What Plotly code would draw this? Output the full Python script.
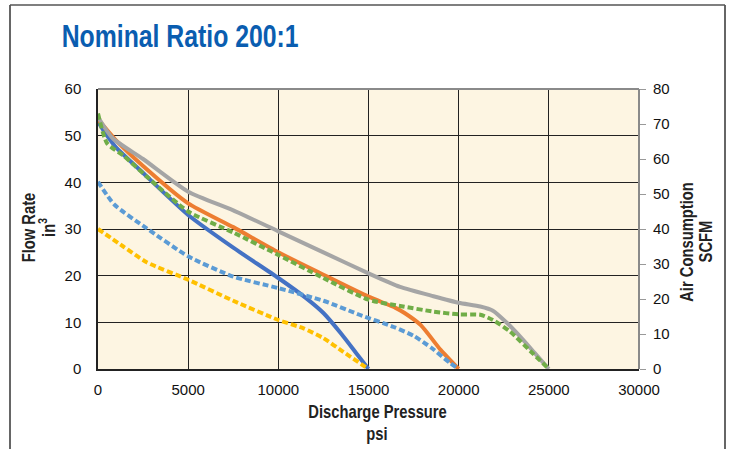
import plotly.graph_objects as go

# Flow rate (left axis, in^3) - solid lines
blue_x = [0, 500, 1000, 2500, 5000, 7500, 10000, 11500, 12500, 13500, 14300, 15000]
blue_y = [53, 50, 47.5, 42, 33, 26, 19.5, 15.3, 12, 7.5, 3.5, 0]

orange_x = [0, 1000, 2500, 5000, 7500, 10000, 12500, 15000, 16500, 17000, 17900, 19000, 20000]
orange_y = [53.5, 49, 43.5, 35.5, 30.4, 25, 20.2, 15.5, 13.1, 12, 9.4, 4.1, 0]

grey_x = [0, 800, 2500, 5000, 7500, 10000, 12500, 15000, 16750, 18600, 20000, 21200, 21900, 22700, 23300, 24200, 25000]
grey_y = [54, 49.5, 45, 38, 34, 29.5, 25, 20.5, 17.6, 15.6, 14.2, 13.4, 12.5, 9.8, 7.4, 3.5, 0]

# Air consumption (right axis, SCFM) - dashed lines
green_x = [0, 500, 1400, 2700, 5000, 7500, 10000, 12500, 15000, 16750, 18600, 20000, 21200, 21900, 22850, 24000, 25000]
green_y = [73, 64.5, 61, 55, 45, 39, 32.6, 26, 19.8, 18, 16.4, 15.6, 15.5, 14, 10.7, 5, 0]

ltblue_x = [0, 900, 2700, 5000, 7500, 10000, 12500, 14500, 16400, 17500, 18500, 19500, 20000]
ltblue_y = [53.5, 47, 40.2, 32.2, 26.4, 23.1, 19.5, 15.5, 12, 9.5, 6, 1.8, 0]

yellow_x = [0, 1400, 2700, 5000, 7500, 10000, 11400, 12500, 13600, 15000]
yellow_y = [40, 35, 30.5, 25.5, 19.5, 14, 11.6, 8.8, 4.9, 0]

x_ticks = [0, 5000, 10000, 15000, 20000, 25000, 30000]

fig = go.Figure()

def solid(x, y, color):
    fig.add_trace(go.Scatter(x=x, y=y, mode="lines", yaxis="y",
                             line=dict(color=color, width=4, shape="spline", smoothing=0.6),
                             showlegend=False, hoverinfo="skip"))

def dashed(x, y, color):
    fig.add_trace(go.Scatter(x=x, y=y, mode="lines", yaxis="y2",
                             line=dict(color=color, width=4, dash="6px,3px", shape="spline", smoothing=0.6),
                             showlegend=False, hoverinfo="skip"))

dashed(yellow_x, yellow_y, "#FFC000")
dashed(ltblue_x, ltblue_y, "#5B9BD5")
solid(blue_x, blue_y, "#4472C4")
solid(orange_x, orange_y, "#ED7D31")
solid(grey_x, grey_y, "#A5A5A5")
dashed(green_x, green_y, "#70AD47")

tickfont = dict(family="Liberation Sans, Arial, sans-serif", size=15, color="#111")
titlefont = dict(family="Liberation Sans, Arial, sans-serif", size=18, color="#222")


def px_x(p):
    return (p - 98) / 541


def px_y(p):
    return (369 - p) / 280


fig.update_layout(
    width=733, height=449,
    margin=dict(l=98, r=94, t=89, b=80),
    paper_bgcolor="white",
    plot_bgcolor="#FDF5E2",
    xaxis=dict(range=[0, 30000], tickvals=x_ticks, ticktext=[str(v) for v in x_ticks],
               showgrid=True, gridcolor="#222", gridwidth=1,
               showline=True, linecolor="#222", linewidth=1.5,
               zeroline=False, ticks="", ticklabelstandoff=6, tickfont=tickfont),
    yaxis=dict(range=[0, 60], dtick=10, showgrid=True, gridcolor="#222", gridwidth=1,
               showline=True, linecolor="#222", linewidth=1.5,
               zeroline=False, ticks="", ticklabelstandoff=12, tickfont=tickfont),
    yaxis2=dict(range=[0, 80], dtick=10, overlaying="y", side="right",
                showgrid=False, zeroline=False, showline=False,
                ticks="outside", ticklen=6, tickcolor="#999", tickwidth=1,
                ticklabelstandoff=4, tickfont=tickfont),
    shapes=[
        dict(type="line", xref="paper", yref="paper", x0=0, x1=1, y0=1, y1=1,
             line=dict(color="#8a8a8a", width=2)),
        dict(type="line", xref="paper", yref="paper", x0=1, x1=1, y0=0, y1=1,
             line=dict(color="#8a8a8a", width=2)),
        # outer frame
        dict(type="line", xref="paper", yref="paper", x0=px_x(10), x1=px_x(10), y0=-0.4, y1=px_y(5),
             line=dict(color="#333", width=1.5)),
        dict(type="line", xref="paper", yref="paper", x0=px_x(725), x1=px_x(725), y0=-0.4, y1=px_y(5),
             line=dict(color="#333", width=1.5)),
        dict(type="line", xref="paper", yref="paper", x0=px_x(10), x1=px_x(725), y0=px_y(5), y1=px_y(5),
             line=dict(color="#555", width=1.5)),
    ],
    annotations=[
        dict(text="<b>Nominal Ratio 200:1</b>", xref="paper", yref="paper",
             x=px_x(180), y=px_y(36), xanchor="center", yanchor="middle",
             showarrow=False,
             font=dict(family="Liberation Sans, Arial, sans-serif", size=31, color="#0A5DB0")),
        dict(text="<b>Flow Rate</b>", xref="paper", yref="paper",
             x=px_x(29), y=px_y(228), xanchor="center", yanchor="middle",
             textangle=-90, showarrow=False, font=titlefont),
        dict(text="<b>in<sup>3</sup></b>", xref="paper", yref="paper",
             x=px_x(47), y=px_y(228), xanchor="center", yanchor="middle",
             textangle=-90, showarrow=False, font=titlefont),
        dict(text="<b>Air Consumption</b>", xref="paper", yref="paper",
             x=px_x(687), y=px_y(242), xanchor="center", yanchor="middle",
             textangle=-90, showarrow=False, font=titlefont),
        dict(text="<b>SCFM</b>", xref="paper", yref="paper",
             x=px_x(706), y=px_y(242), xanchor="center", yanchor="middle",
             textangle=-90, showarrow=False, font=titlefont),
        dict(text="<b>Discharge Pressure</b>", xref="paper", yref="paper",
             x=px_x(377), y=px_y(412), xanchor="center", yanchor="middle",
             showarrow=False, font=titlefont),
        dict(text="<b>psi</b>", xref="paper", yref="paper",
             x=px_x(377), y=px_y(434), xanchor="center", yanchor="middle",
             showarrow=False, font=titlefont),
    ],
)

post = """
document.body.style.margin='0';
document.body.style.padding='0';
document.body.style.overflow='hidden';
var gd = document.getElementById('{plot_id}');
function condense(){
  gd.querySelectorAll('g.annotation').forEach(function(g){
    var t = g.querySelector('text.annotation-text');
    if(!t) return;
    var i = g.getAttribute('data-index');
    var s = (i === '0') ? 0.8 : 0.82;
    t.style.transformBox = 'fill-box';
    t.style.transformOrigin = '50% 50%';
    t.style.transform = 'scaleX(' + s + ')';
  });
}
condense();
if (gd.on) { gd.on('plotly_afterplot', condense); }
"""

fig.write_html("out.html", post_script=post, config={"displayModeBar": False})
